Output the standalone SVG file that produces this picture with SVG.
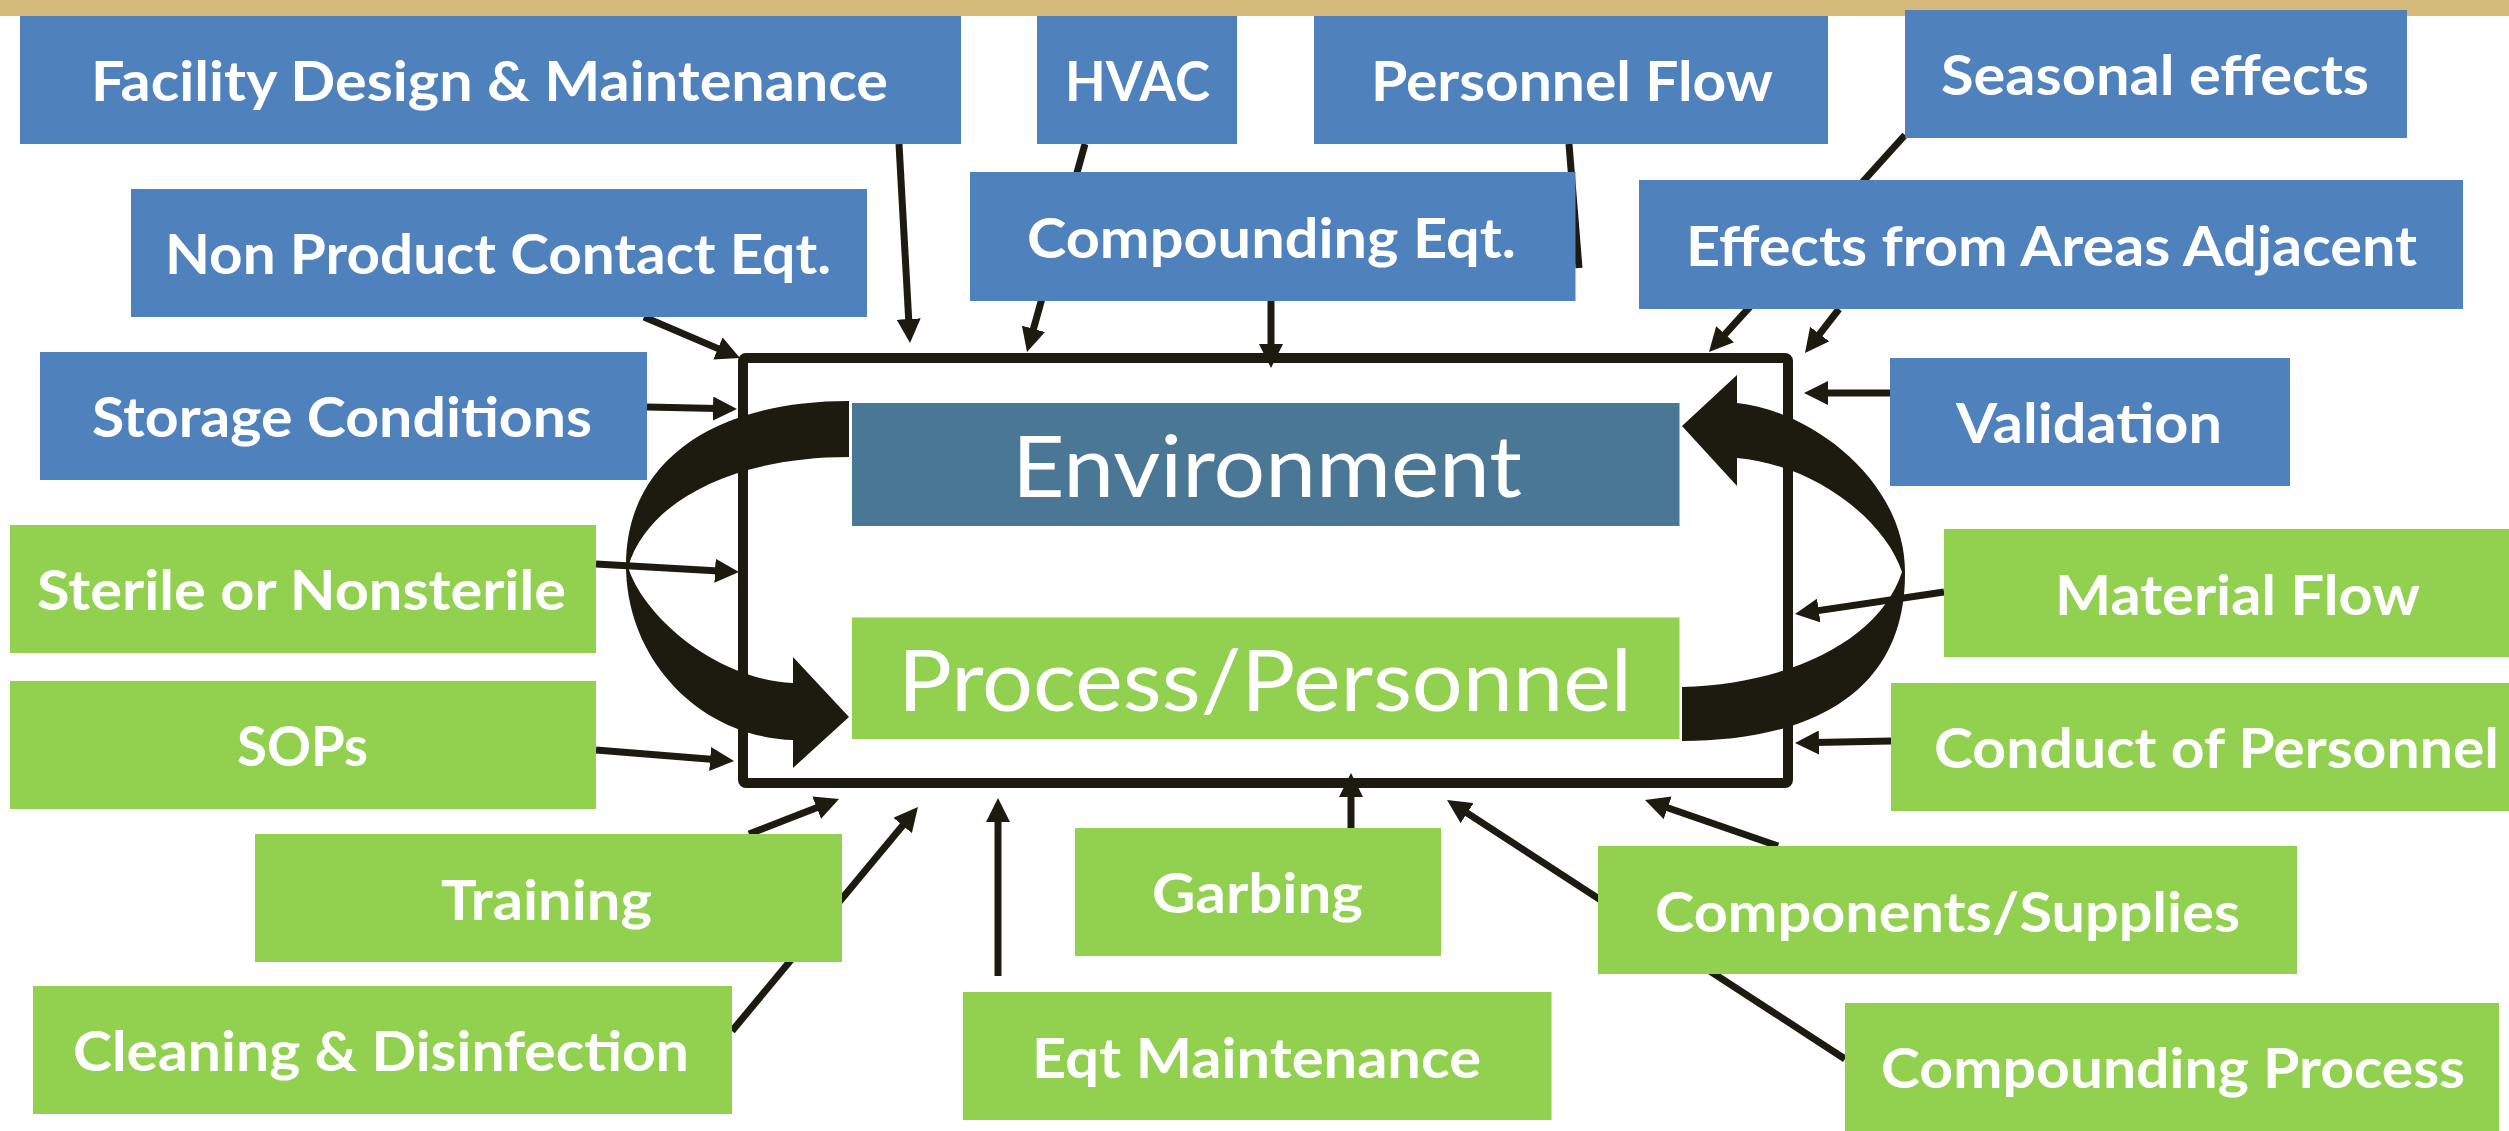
<svg xmlns="http://www.w3.org/2000/svg" width="2509" height="1131" viewBox="0 0 2509 1131">
  <style>
    .blue { fill: #4F81BD; }
    .green { fill: #92D050; }
    .core { fill: #4A7795; }
    .lbl { font-family: Lato, "Open Sans", "Liberation Sans", sans-serif; font-weight: 700; font-size: 55px; fill: #FFFFFF; }
    .big { font-family: Lato, "Open Sans", "Liberation Sans", sans-serif; font-weight: 400; font-size: 85px; fill: #FFFFFF; }
    .conn line { stroke: #1D1A0F; stroke-width: 7; fill: none; }
    .frame { fill: none; stroke: #1D1A0F; stroke-width: 10; stroke-linejoin: round; }
    .cycle { fill: #1D1A0F; }
  </style>
  <defs>
    <marker id="head" markerUnits="userSpaceOnUse" markerWidth="24" markerHeight="24" refX="4" refY="12" orient="auto">
      <path d="M0,0 L24,12 L0,24 Z" fill="#1D1A0F"/>
    </marker>
  </defs>

  <rect width="2509" height="1131" fill="#FFFFFF"/>
  <!-- top rule -->
  <rect x="0" y="0" width="2509" height="16" fill="#D4B97B"/>

  <!-- central frame holding environment and process -->
  <rect class="frame" x="743" y="358" width="1045" height="425" rx="3"/>

  <!-- cycle arrows between environment and process -->
  <g id="cycle-arrows">
    <path class="cycle" d="M849,401 C711,401 626,463 626,565 C626,660 700,737 793,740 L793,768 L849,717 L793,657 L793,683 C720,680 645,620 628,567 C648,500 735,457 849,457 Z"/>
    <path class="cycle" d="M1737,403 C1810,410 1905,480 1905,572 C1906,700 1800,741 1682,741 L1682,687 C1790,684 1880,640 1902,572 C1885,520 1815,465 1737,458 L1737,486 L1682,426 L1737,375 Z"/>
  </g>

  <!-- connectors -->
  <g id="connectors" class="conn">
    <line x1="899" y1="144" x2="908.9" y2="323" marker-end="url(#head)"/>
    <line x1="644" y1="317" x2="721.6" y2="350.1" marker-end="url(#head)"/>
    <line x1="647" y1="407" x2="717" y2="408.6" marker-end="url(#head)"/>
    <line x1="1085" y1="144" x2="1032.4" y2="332.7" marker-end="url(#head)"/>
    <line x1="1569" y1="144" x2="1579" y2="268"/>
    <line x1="1271" y1="301" x2="1271" y2="348" marker-end="url(#head)"/>
    <line x1="1905" y1="135" x2="1722.4" y2="337.2" marker-end="url(#head)"/>
    <line x1="1839" y1="309" x2="1817.2" y2="337.2" marker-end="url(#head)"/>
    <line x1="1890" y1="393" x2="1824" y2="393" marker-end="url(#head)"/>
    <line x1="596" y1="564" x2="719" y2="570.9" marker-end="url(#head)"/>
    <line x1="596" y1="750" x2="714.1" y2="759.4" marker-end="url(#head)"/>
    <line x1="749" y1="834" x2="820.4" y2="806.2" marker-end="url(#head)"/>
    <line x1="732" y1="1031" x2="905.2" y2="822.4" marker-end="url(#head)"/>
    <line x1="998" y1="976" x2="998" y2="818" marker-end="url(#head)"/>
    <line x1="1351" y1="828" x2="1351" y2="793" marker-end="url(#head)"/>
    <line x1="1845" y1="1059" x2="1463.8" y2="810.9" marker-end="url(#head)"/>
    <line x1="1778" y1="846" x2="1663.9" y2="806.5" marker-end="url(#head)"/>
    <line x1="1944" y1="592" x2="1814.8" y2="611.1" marker-end="url(#head)"/>
    <line x1="1891" y1="741" x2="1815" y2="742.6" marker-end="url(#head)"/>
  </g>

  <!-- core nodes -->
  <g id="environment">
    <rect class="core" x="852" y="403" width="827.5" height="123"/>
    <text class="big" x="1012" y="497" textLength="510" lengthAdjust="spacingAndGlyphs">Environment</text>
  </g>
  <g id="process-personnel">
    <rect class="green" x="852" y="617.5" width="827.5" height="121.5"/>
    <text class="big" x="898" y="711" textLength="734" lengthAdjust="spacingAndGlyphs">Process/Personnel</text>
  </g>

  <!-- environment factors -->
  <g id="facility-design">
    <rect class="blue" x="20" y="16" width="941" height="128"/>
    <text class="lbl" x="91" y="101" textLength="797" lengthAdjust="spacingAndGlyphs">Facility Design &amp; Maintenance</text>
  </g>
  <g id="non-product-contact">
    <rect class="blue" x="131" y="189" width="736" height="128"/>
    <text class="lbl" x="165" y="274" textLength="666" lengthAdjust="spacingAndGlyphs">Non Product Contact Eqt.</text>
  </g>
  <g id="storage-conditions">
    <rect class="blue" x="40" y="352" width="607" height="128"/>
    <text class="lbl" x="92" y="437" textLength="500" lengthAdjust="spacingAndGlyphs">Storage Conditions</text>
  </g>
  <g id="hvac">
    <rect class="blue" x="1037" y="16" width="200" height="128"/>
    <text class="lbl" x="1065" y="101" textLength="145" lengthAdjust="spacingAndGlyphs">HVAC</text>
  </g>
  <g id="personnel-flow">
    <rect class="blue" x="1314" y="16" width="514" height="128"/>
    <text class="lbl" x="1371" y="101" textLength="402" lengthAdjust="spacingAndGlyphs">Personnel Flow</text>
  </g>
  <g id="seasonal-effects">
    <rect class="blue" x="1905" y="10" width="502" height="128"/>
    <text class="lbl" x="1941" y="95" textLength="428" lengthAdjust="spacingAndGlyphs">Seasonal effects</text>
  </g>
  <g id="compounding-eqt">
    <rect class="blue" x="970" y="172" width="605.5" height="129"/>
    <text class="lbl" x="1027" y="258" textLength="489" lengthAdjust="spacingAndGlyphs">Compounding Eqt.</text>
  </g>
  <g id="adjacent-areas">
    <rect class="blue" x="1639" y="180" width="824" height="129"/>
    <text class="lbl" x="1686" y="266" textLength="731" lengthAdjust="spacingAndGlyphs">Effects from Areas Adjacent</text>
  </g>
  <g id="validation">
    <rect class="blue" x="1890" y="358" width="400" height="128"/>
    <text class="lbl" x="1956" y="443" textLength="266" lengthAdjust="spacingAndGlyphs">Validation</text>
  </g>

  <!-- process / personnel factors -->
  <g id="sterile">
    <rect class="green" x="10" y="525" width="586" height="128"/>
    <text class="lbl" x="37" y="610" textLength="529" lengthAdjust="spacingAndGlyphs">Sterile or Nonsterile</text>
  </g>
  <g id="sops">
    <rect class="green" x="10" y="681" width="586" height="128"/>
    <text class="lbl" x="237" y="766" textLength="131" lengthAdjust="spacingAndGlyphs">SOPs</text>
  </g>
  <g id="training">
    <rect class="green" x="255" y="834" width="587" height="128"/>
    <text class="lbl" x="441" y="920" textLength="211" lengthAdjust="spacingAndGlyphs">Training</text>
  </g>
  <g id="cleaning">
    <rect class="green" x="33" y="986" width="699" height="128"/>
    <text class="lbl" x="73" y="1071" textLength="616" lengthAdjust="spacingAndGlyphs">Cleaning &amp; Disinfection</text>
  </g>
  <g id="eqt-maintenance">
    <rect class="green" x="963" y="992" width="588.5" height="128"/>
    <text class="lbl" x="1032" y="1078" textLength="449" lengthAdjust="spacingAndGlyphs">Eqt Maintenance</text>
  </g>
  <g id="garbing">
    <rect class="green" x="1075" y="828" width="366" height="128"/>
    <text class="lbl" x="1152" y="913" textLength="211" lengthAdjust="spacingAndGlyphs">Garbing</text>
  </g>
  <g id="components-supplies">
    <rect class="green" x="1598" y="846" width="699" height="128"/>
    <text class="lbl" x="1655" y="932" textLength="585" lengthAdjust="spacingAndGlyphs">Components/Supplies</text>
  </g>
  <g id="compounding-process">
    <rect class="green" x="1845" y="1003" width="654" height="128"/>
    <text class="lbl" x="1881" y="1088" textLength="584" lengthAdjust="spacingAndGlyphs">Compounding Process</text>
  </g>
  <g id="material-flow">
    <rect class="green" x="1944" y="529" width="565" height="128"/>
    <text class="lbl" x="2055" y="615" textLength="365" lengthAdjust="spacingAndGlyphs">Material Flow</text>
  </g>
  <g id="conduct-personnel">
    <rect class="green" x="1891" y="683" width="618" height="128"/>
    <text class="lbl" x="1934" y="768" textLength="565" lengthAdjust="spacingAndGlyphs">Conduct of Personnel</text>
  </g>
</svg>
